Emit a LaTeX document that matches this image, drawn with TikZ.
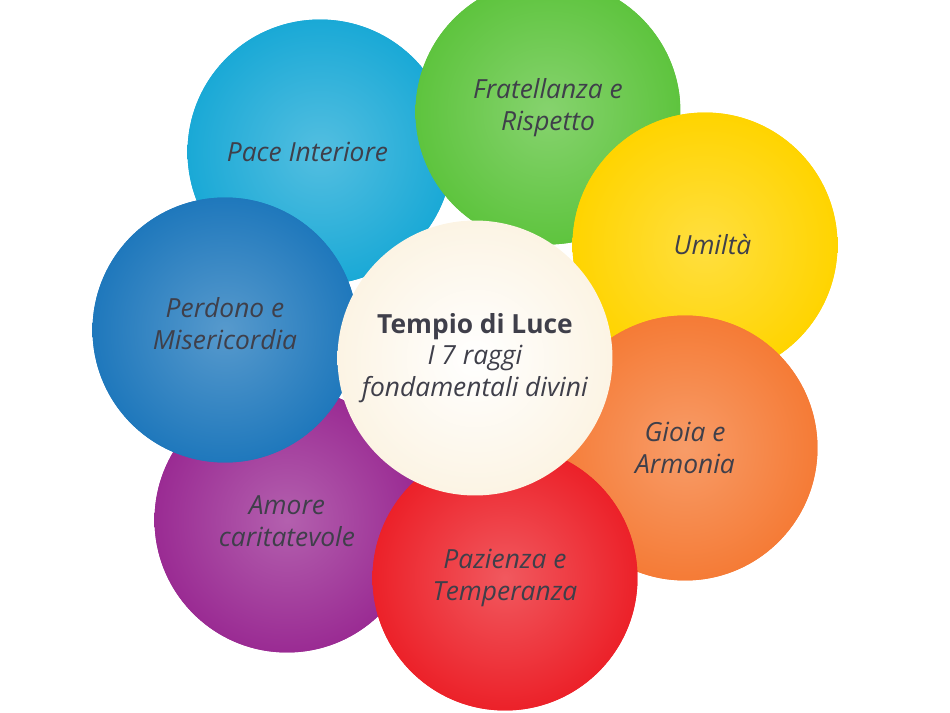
\documentclass[tikz,border=0pt]{standalone}
\usepackage{fontspec}
\setmainfont{Open Sans}
\usepackage{tikz}
\definecolor{paceC}{HTML}{1AA9D6}
\definecolor{fratC}{HTML}{5EC43E}
\definecolor{umilC}{HTML}{FFD400}
\definecolor{gioiaC}{HTML}{F57B36}
\definecolor{pazC}{HTML}{EC2129}
\definecolor{amoreC}{HTML}{9A2B93}
\definecolor{perdC}{HTML}{1F78BC}
\definecolor{luceC}{HTML}{FCF4E4}
\definecolor{testoC}{HTML}{3F3F4A}
\tikzset{%
    petal/.style={circle,minimum size=5.3cm,inner sep=0pt,align=center,
      text=testoC,font=\fontsize{15}{18}\selectfont\itshape,
      inner color=#1!75!white,outer color=#1,fill=#1}
}
\begin{document}
\begin{tikzpicture}[x=0.02cm,y=-0.02cm]
  \useasboundingbox (0,0) rectangle (950,713);

  \node[petal=paceC] (pace) at (320,152) {\hspace*{-0.5cm}Pace Interiore};
  \node[petal=fratC] (frat) at (548,112) {\mbox{}\\[-0.4cm]Fratellanza e\\Rispetto};
  \node[petal=umilC] (umil) at (705,245) {\hspace*{0.3cm}Umiltà};
  \node[petal=gioiaC] (gioia) at (685,448) {Gioia e\\Armonia};
  \node[petal=amoreC] (amore) at (287,520) {\mbox{}\\[-0.2cm]Amore\\caritatevole};
  \node[petal=pazC] (paz) at (505,578) {Pazienza e\\Temperanza};
  \node[petal=perdC] (perd) at (225,330) {\mbox{}\\[-0.5cm]Perdono e\\Misericordia};
  \node[circle,minimum size=5.5cm,inner sep=0pt,align=center,
    inner color=white,outer color=luceC,text=testoC,
    font=\fontsize{15}{18}\selectfont] (luce) at (475,358)
    {\textbf{Tempio di Luce}\\\textit{I 7 raggi}\\\textit{fondamentali divini}};
\end{tikzpicture}
\end{document}
